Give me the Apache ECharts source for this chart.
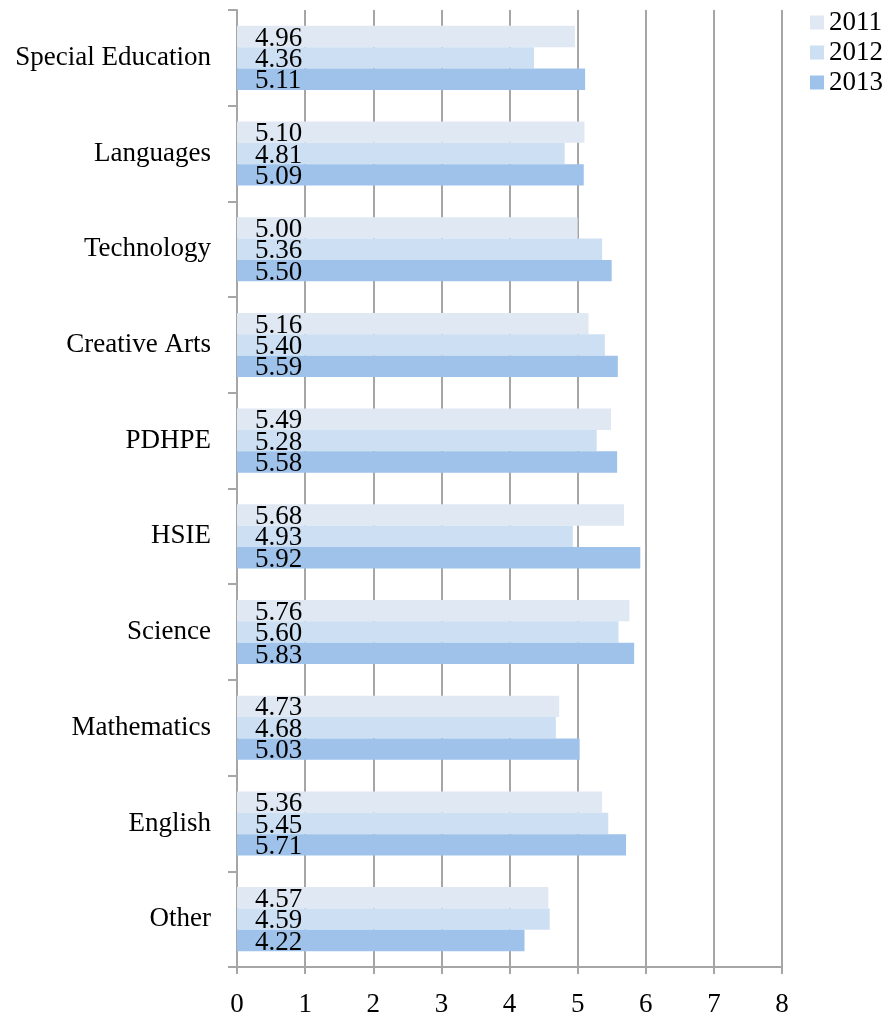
<!DOCTYPE html>
<html>
<head>
<meta charset="utf-8">
<script src="https://cdn.jsdelivr.net/npm/echarts@6/dist/echarts.min.js"></script>
<style>html,body{margin:0;padding:0;background:#fff;}#c{width:889px;height:1018px;}</style>
</head>
<body>
<div id="c"></div>
<script>
const categories = ['Other', 'English', 'Mathematics', 'Science', 'HSIE', 'PDHPE', 'Creative Arts', 'Technology', 'Languages', 'Special Education'];
const y2011 = [4.57, 5.36, 4.73, 5.76, 5.68, 5.49, 5.16, 5.00, 5.10, 4.96];
const y2012 = [4.59, 5.45, 4.68, 5.60, 4.93, 5.28, 5.40, 5.36, 4.81, 4.36];
const y2013 = [4.22, 5.71, 5.03, 5.83, 5.92, 5.58, 5.59, 5.50, 5.09, 5.11];
const xTicks = [0, 1, 2, 3, 4, 5, 6, 7, 8];

const FONT = '"Liberation Serif", "DejaVu Serif", serif';
const GRAY = '#a6a6a6';
const colors = {'2011': '#dfe8f3', '2012': '#cddff3', '2013': '#9ec2ea'};

function mk(name, data) {
  return {
    name: name, type: 'bar', data: data,
    barGap: '0%', barCategoryGap: '33%',
    itemStyle: {color: colors[name]},
    label: {
      show: true, position: 'insideLeft', distance: 18, offset: [0, 2],
      color: '#000', fontFamily: FONT, fontSize: 27,
      formatter: p => p.value.toFixed(2)
    },
    emphasis: {disabled: true}
  };
}

const chart = echarts.init(document.getElementById('c'), null, {renderer: 'canvas'});
chart.setOption({
  animation: false,
  backgroundColor: '#fff',
  grid: {left: 237, right: 107, top: 10, bottom: 47, containLabel: false},
  legend: {
    orient: 'vertical', left: 805, top: 4,
    data: ['2011', '2012', '2013'],
    itemWidth: 14, itemHeight: 14, itemGap: 3,
    icon: 'rect',
    textStyle: {fontFamily: FONT, fontSize: 27, color: '#000', lineHeight: 27},
    selectedMode: false
  },
  xAxis: {
    type: 'value', min: xTicks[0], max: xTicks[xTicks.length - 1], interval: 1,
    axisLine: {show: true, lineStyle: {color: GRAY, width: 2}},
    axisTick: {show: true, length: 7, lineStyle: {color: GRAY, width: 2}},
    splitLine: {show: true, lineStyle: {color: GRAY, width: 2}},
    axisLabel: {color: '#000', fontFamily: FONT, fontSize: 27, margin: 24}
  },
  yAxis: {
    type: 'category', data: categories,
    axisLine: {show: true, lineStyle: {color: GRAY, width: 2}},
    axisTick: {show: true, length: 9, lineStyle: {color: GRAY, width: 2}},
    axisLabel: {color: '#000', fontFamily: FONT, fontSize: 27, margin: 26, padding: [8, 0, 0, 0]}
  },
  series: [mk('2011', y2011), mk('2012', y2012), mk('2013', y2013)]
});
</script>
</body>
</html>
